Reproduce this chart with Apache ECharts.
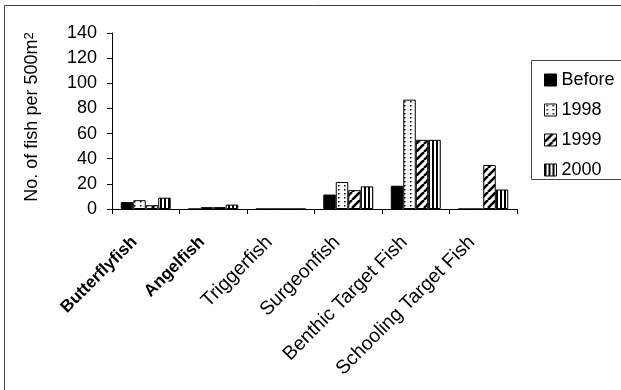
<!DOCTYPE html>
<html><head><meta charset="utf-8">
<script src="https://cdn.jsdelivr.net/npm/echarts@6/dist/echarts.min.js"></script>
<style>html,body{margin:0;padding:0;background:#fff}#c{width:621px;height:390px}</style>
</head><body><div id="c"></div>
<script>
var categories = ['Butterflyfish','Angelfish','Triggerfish','Surgeonfish','Benthic Target Fish','Schooling Target Fish'];
var seriesNames = ['Before','1998','1999','2000'];
var before = [5.5, 0, 0, 11.5, 18.5, 0];
var y1998 = [7, 1.5, 0, 21.5, 87, 0];
var y1999 = [3, 1.5, 0, 15, 55, 35];
var y2000 = [9, 3.5, 0, 18, 55, 15.5];
var yTicks = [0, 20, 40, 60, 80, 100, 120, 140];
var boldCats = ['Butterflyfish','Angelfish'];

function mk(w,h,draw){var c=document.createElement('canvas');c.width=w;c.height=h;var g=c.getContext('2d');g.fillStyle='#fff';g.fillRect(0,0,w,h);g.fillStyle='#000';g.strokeStyle='#000';draw(g);return c;}
var dots = mk(6,4,function(g){g.fillRect(2,1,1.5,1.5);});
var diag = mk(8,8,function(g){g.lineWidth=2.6;g.beginPath();for(var k=-8;k<=16;k+=8){g.moveTo(k,8);g.lineTo(k+8,0);}g.stroke();});
var vert = mk(4,4,function(g){g.fillRect(0,0,2,4);});
var fills = ['#000', {image:dots,repeat:'repeat'}, {image:diag,repeat:'repeat'}, {image:vert,repeat:'repeat'}];
var data = [before, y1998, y1999, y2000];

var chart = echarts.init(document.getElementById('c'), null, {renderer:'canvas'});
var font = 'Liberation Sans, Arial, sans-serif';
chart.setOption({
  animation:false,
  textStyle:{fontFamily:font,color:'#000'},
  grid:{left:112,right:104,top:33,bottom:181,containLabel:false},
  legend:{orient:'vertical',left:539,top:66,itemWidth:12,itemHeight:12,itemGap:12,icon:'rect',
    textStyle:{fontSize:18,color:'#000',fontFamily:font,lineHeight:18},
    itemStyle:{borderColor:'#000',borderWidth:1},
    data:seriesNames},
  xAxis:{type:'category',data:categories,
    axisLine:{lineStyle:{color:'#000',width:1}},
    axisTick:{show:true,inside:false,length:5,alignWithLabel:false,lineStyle:{color:'#000'}},
    axisLabel:{interval:0,rotate:45,margin:19,fontSize:19.5,color:'#000',fontFamily:font,padding:[0,16,0,0],
      formatter:function(v){return boldCats.indexOf(v)>=0?'{b|'+v+'}':v;},
      rich:{b:{fontWeight:'bold',fontSize:17,fontFamily:font,color:'#000'}}}},
  yAxis:{type:'value',min:yTicks[0],max:yTicks[yTicks.length-1],interval:20,
    splitLine:{show:false},
    axisLine:{show:true,lineStyle:{color:'#000',width:1}},
    axisTick:{show:true,length:5,lineStyle:{color:'#000'}},
    axisLabel:{margin:15,fontSize:18,color:'#000',fontFamily:font}},
  graphic:[
    {type:'rect',shape:{x:4.5,y:5.5,width:700,height:500},style:{fill:'none',stroke:'#444',lineWidth:1},z:-1},
    {type:'rect',shape:{x:531.5,y:60.5,width:200,height:119},style:{fill:'none',stroke:'#444',lineWidth:1}},
    {type:'text',x:32,y:117,rotation:Math.PI/2,
      style:{text:'No. of fish per 500m{s|2}',font:'18px '+font,fill:'#000',align:'center',verticalAlign:'middle',
        rich:{s:{fontSize:13,fontFamily:font,verticalAlign:'top',lineHeight:13,padding:[0,0,7,0]}}}}
  ],
  series:seriesNames.map(function(n,i){return {name:n,type:'bar',data:data[i],barGap:'0%',barCategoryGap:'26%',
    itemStyle:{color:fills[i],borderColor:'#000',borderWidth:1}};})
});
</script></body></html>
